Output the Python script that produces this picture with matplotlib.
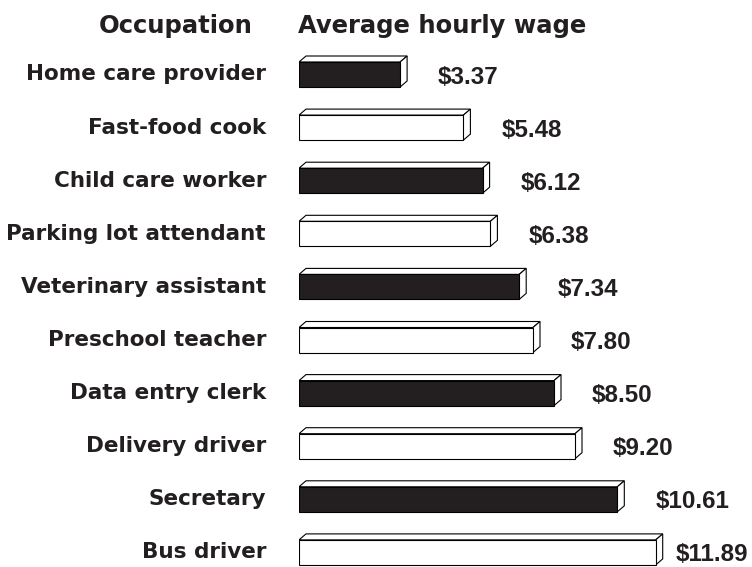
import matplotlib
matplotlib.use("Agg")
import matplotlib.pyplot as plt
from matplotlib.patches import Polygon

occupations = ["Home care provider", "Fast-food cook", "Child care worker",
               "Parking lot attendant", "Veterinary assistant", "Preschool teacher",
               "Data entry clerk", "Delivery driver", "Secretary", "Bus driver"]
wages = [3.37, 5.48, 6.12, 6.38, 7.34, 7.80, 8.50, 9.20, 10.61, 11.89]
fills = ["#231f20", "white", "#231f20", "white", "#231f20",
         "white", "#231f20", "white", "#231f20", "white"]
header_left = "Occupation"
header_right = "Average hourly wage"

ink = "#231f20"
W, H = 752, 567
DPI = 100
PT = 72 / DPI  # points per pixel

fig = plt.figure(figsize=(W / DPI, H / DPI), dpi=DPI)
x0_px = 299
px_per_dollar = 30.0
xmax = (W - x0_px) / px_per_dollar
row0_px = 74.5
row_px = 53.1
ax = fig.add_axes([x0_px / W, 0, 1 - x0_px / W, 1])
ax.set_xlim(0, xmax)
ax.set_ylim((H - row0_px) / row_px, -row0_px / row_px)
ax.axis("off")

bar_h = 25 / row_px
dx_px, dy_px = 7, 6
dx = dx_px / px_per_dollar
dy = dy_px / row_px
lw = 0.8
ypos = list(range(len(occupations)))

ax.barh(ypos, wages, height=bar_h, left=0, color=fills, edgecolor="black",
        linewidth=lw, zorder=3)

value_texts = []
for i, v in zip(ypos, wages):
    top = i - bar_h / 2
    bot = i + bar_h / 2
    ax.add_patch(Polygon([(0, top), (v, top), (v + dx, top - dy), (dx, top - dy)],
                         closed=True, facecolor="white", edgecolor="black",
                         linewidth=lw, zorder=2))
    ax.add_patch(Polygon([(v, top), (v + dx, top - dy), (v + dx, bot - dy), (v, bot)],
                         closed=True, facecolor="white", edgecolor="black",
                         linewidth=lw, zorder=2))
    t = ax.annotate(f"${v:.2f}", xy=(v, i), xytext=((dx_px + 31) * PT, -9 * PT),
                    textcoords="offset points", va="baseline", ha="left",
                    fontsize=17.4, fontweight="bold", color=ink,
                    family=["Liberation Sans", "DejaVu Sans"])
    value_texts.append(t)

for i, name in zip(ypos, occupations):
    ax.annotate(name, xy=(0, i), xytext=(-33 * PT, -6 * PT),
                textcoords="offset points", va="baseline", ha="right",
                fontsize=15.5, fontweight="bold", color=ink,
                family=["DejaVu Sans"])

fig.text(176 / W, 1 - 33 / H, header_left, ha="center", va="baseline",
         fontsize=17.5, fontweight="bold", color=ink, family=["DejaVu Sans"])
fig.text(298 / W, 1 - 33 / H, header_right, ha="left", va="baseline",
         fontsize=17.5, fontweight="bold", color=ink, family=["DejaVu Sans"])

# keep value labels inside the canvas
fig.canvas.draw()
renderer = fig.canvas.get_renderer()
right_limit = W - 4
for t in value_texts:
    bb = t.get_window_extent(renderer)
    if bb.x1 > right_limit:
        ox, oy = t.xyann
        t.xyann = (ox - (bb.x1 - right_limit) * PT, oy)

fig.savefig("out.png", dpi=DPI)
